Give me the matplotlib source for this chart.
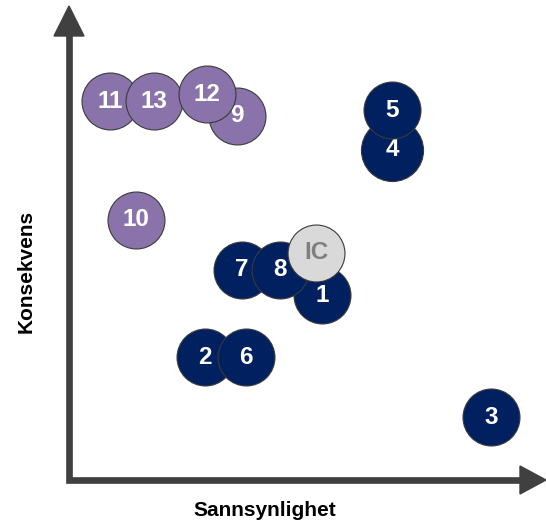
import matplotlib
matplotlib.use('Agg')
import matplotlib.pyplot as plt
from matplotlib.patches import Polygon
from matplotlib.lines import Line2D

plt.rcParams['font.family'] = ['Liberation Sans', 'DejaVu Sans']

# risk items: label, sannsynlighet (x), konsekvens (y), group
labels = ["11", "13", "9", "12", "4", "5", "10", "7", "1", "8", "IC", "2", "6", "3"]
sannsynlighet = [0.86, 1.78, 3.52, 2.89, 6.77, 6.77, 1.40, 3.63, 5.31, 4.42, 5.18, 2.85, 3.71, 8.85]
konsekvens = [8.01, 8.01, 7.70, 8.16, 6.98, 7.82, 5.50, 4.44, 3.91, 4.44, 4.80, 2.60, 2.60, 1.33]
group = ["lilla", "lilla", "lilla", "lilla", "bla", "bla", "lilla", "bla", "bla", "bla", "ic", "bla", "bla", "bla"]
size_scale = [1, 1, 1, 1, 1.09, 1, 1, 1, 1, 1, 1, 1, 1, 1]

fill = {"lilla": "#8A73AB", "bla": "#002060", "ic": "#D9D9D9"}
txt = {"lilla": "white", "bla": "white", "ic": "#7F7F7F"}

W, H = 546, 525
fig = plt.figure(figsize=(W / 100, H / 100), dpi=100)

# background axes in pixel units for the arrows and titles
bg = fig.add_axes([0, 0, 1, 1])
bg.set_xlim(0, W)
bg.set_ylim(H, 0)
bg.axis('off')

axcol = "#404040"
bg.add_line(Line2D([69, 69, 522], [34, 480, 480], color=axcol, lw=4.8,
                   solid_joinstyle='miter', solid_capstyle='butt'))
bg.add_patch(Polygon([(54, 36), (84, 36), (69, 6)], closed=True, color=axcol))
bg.add_patch(Polygon([(520, 466), (520, 494), (546, 480)], closed=True, color=axcol))

bg.text(265, 510, "Sannsynlighet", ha='center', va='center', fontsize=15, fontweight='bold')
bg.text(26, 271, "Konsekvens", ha='center', va='center', rotation=90, fontsize=15, fontweight='bold')

# data axes: origin at the arrow corner
ax = fig.add_axes([69 / W, (H - 480) / H, (546 - 69) / W, (480 - 7) / H])
ax.set_xlim(0, 10)
ax.set_ylim(0, 10)
ax.axis('off')
ax.patch.set_alpha(0)

base_s = 41 ** 2
for i, lab in enumerate(labels):
    g = group[i]
    ax.scatter(sannsynlighet[i], konsekvens[i], s=base_s * size_scale[i] ** 2,
               color=fill[g], edgecolor="#3A3A3A", linewidth=0.8, zorder=2 + i * 2)
    ax.text(sannsynlighet[i], konsekvens[i], lab, ha='center', va='center',
            color=txt[g], fontsize=17.5, fontweight='bold', zorder=3 + i * 2)

fig.savefig("out.png", dpi=100)
